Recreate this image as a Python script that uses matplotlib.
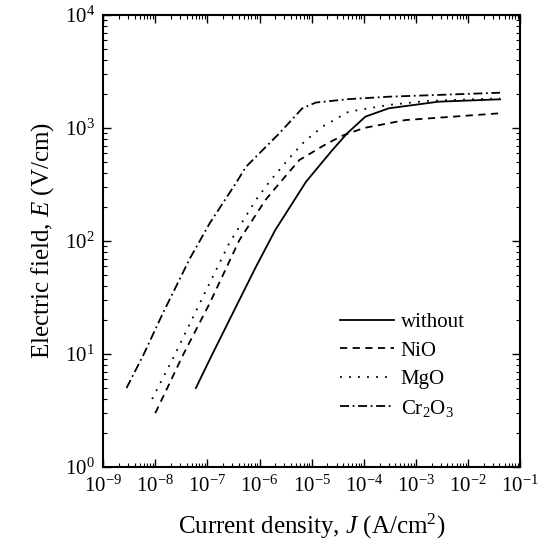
import matplotlib
matplotlib.use("Agg")
import matplotlib.pyplot as plt
from matplotlib.ticker import LogLocator, NullFormatter

j_without = [6e-8, 1.18e-7, 3.5e-7, 8.5e-7, 2e-6, 7.8e-6, 2.5e-5, 4.8e-5, 1.07e-4, 3e-4, 2.7e-3, 4.1e-2]
e_without = [5, 9.5, 26, 59, 125, 335, 639, 898, 1260, 1494, 1710, 1795]

j_nio = [1e-8, 3.4e-8, 1.1e-7, 4.1e-7, 1.3e-6, 2.4e-6, 5.8e-6, 2e-5, 4e-5, 1e-4, 6.3e-4, 4.1e-2]
e_nio = [3, 9.8, 28, 102, 231, 324, 521, 732, 860, 1000, 1176, 1350]

j_mgo = [8.7e-9, 2.35e-8, 7.1e-8, 2.6e-7, 8.5e-7, 1.55e-6, 3.7e-6, 7.2e-6, 1.6e-5, 5.1e-5, 3e-4, 1.7e-3, 4.1e-2]
e_mgo = [4, 9.8, 28, 95, 231, 335, 540, 757, 1026, 1394, 1600, 1740, 1830]

j_cr2o3 = [2.8e-9, 5.9e-9, 1.4e-8, 4.6e-8, 1.1e-7, 3.5e-7, 5.5e-7, 2.4e-6, 6.6e-6, 1.2e-5, 5e-5, 3e-4, 4.1e-2]
e_cr2o3 = [5, 9.8, 23, 70, 143, 324, 454, 898, 1494, 1680, 1800, 1893, 2053]

labels = ["without", "NiO", "MgO", r"Cr$_2$O$_3$"]

plt.rcParams["font.family"] = "Liberation Serif"
plt.rcParams["mathtext.fontset"] = "custom"
plt.rcParams["mathtext.rm"] = "Liberation Serif"
plt.rcParams["mathtext.it"] = "Liberation Serif:italic"

fig = plt.figure(figsize=(5.43, 5.56), dpi=100)
ax = fig.add_axes([0.19, 0.16, 0.768, 0.813])

lw = 1.3
ax.plot(j_without, e_without, color="black", lw=lw, linestyle="-", label=labels[0])
ax.plot(j_nio, e_nio, color="black", lw=lw, linestyle=(0, (4, 3)), label=labels[1])
ax.plot(j_mgo, e_mgo, color="black", lw=lw, linestyle=(0, (1, 4)), label=labels[2])
ax.plot(j_cr2o3, e_cr2o3, color="black", lw=lw, linestyle=(0, (5, 2, 1, 2)), label=labels[3])

ax.set_xscale("log")
ax.set_yscale("log")
ax.set_xlim(1e-9, 1e-1)
ax.set_ylim(1e0, 1e4)

ax.xaxis.set_major_locator(LogLocator(base=10, numticks=20))
ax.xaxis.set_minor_locator(LogLocator(base=10, subs=range(2, 10), numticks=20))
ax.xaxis.set_minor_formatter(NullFormatter())
ax.yaxis.set_minor_locator(LogLocator(base=10, subs=range(2, 10), numticks=20))
ax.yaxis.set_minor_formatter(NullFormatter())

ax.tick_params(which="both", direction="in", top=True, right=True, labelsize=15, pad=6)
ax.tick_params(which="major", length=6, width=1)
ax.tick_params(which="minor", length=3, width=0.8)
for s in ax.spines.values():
    s.set_linewidth(1.5)

ax.set_xlabel(r"Current density, $\it{J}$ (A/cm$^2$)", fontsize=18, labelpad=11)
ax.set_ylabel(r"Electric field, $\it{E}$ (V/cm)", fontsize=18, labelpad=6)

ax.legend(loc="upper left", bbox_to_anchor=(0.549, 0.36), frameon=False, fontsize=15,
          handlelength=2.55, handletextpad=0.35, labelspacing=0.42, borderaxespad=0)

plt.savefig("out.png", dpi=100)
